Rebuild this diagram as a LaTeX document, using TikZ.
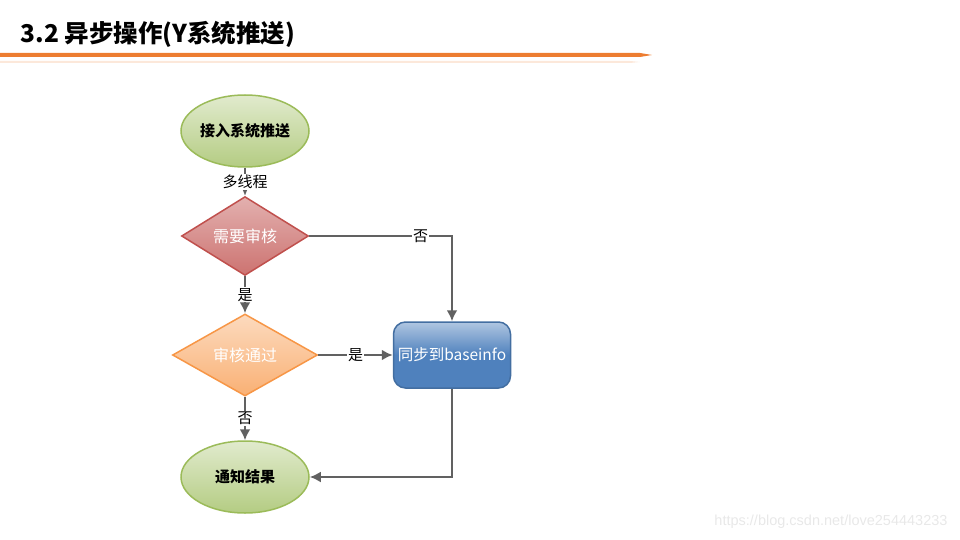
\documentclass[tikz,border=0pt]{standalone}
\usepackage{fontspec}
\setmainfont{Noto Sans CJK SC}
\newfontfamily\webfont{Liberation Sans}
\usetikzlibrary{shapes.geometric,arrows.meta}
\definecolor{titleOrange}{HTML}{ED7D31}
\definecolor{leafGreen}{HTML}{9BBB59}
\definecolor{checkRed}{HTML}{C0504D}
\definecolor{passOrange}{HTML}{F79646}
\definecolor{syncBlue}{HTML}{4F81BD}
\newcommand{\flowGray}{black!62}

\begin{document}
\begin{tikzpicture}[x=1pt,y=-1pt,
    terminal/.style={ellipse, draw=leafGreen, line width=1.5pt,
        top color=leafGreen!30, bottom color=leafGreen!75,
        minimum width=128pt, minimum height=72pt, inner sep=0pt,
        font=\fontsize{15}{18}\selectfont\bfseries},
    decision/.style={diamond, line width=1.5pt, inner sep=0pt,
        text=white, font=\fontsize{16}{19}\selectfont},
    flow/.style={draw=\flowGray, line width=2.2pt,
        -{Latex[length=11pt,width=11pt]}},
    flowlabel/.style={fill=white, inner sep=1pt,
        font=\fontsize{15}{17}\selectfont}]
\useasboundingbox (0,0) rectangle (960,540);

% title
\node[anchor=west, font=\fontsize{24.5}{28}\selectfont\bfseries](title)
    at (17,34){3.2 异步操作(Y系统推送)};
\fill[titleOrange](0,53) -- (640,53) -- (652,55) -- (640,57) -- (0,57) -- cycle;
\fill[titleOrange!18](0,61) -- (630,61) -- (640,62) -- (630,63) -- (0,63) -- cycle;

% nodes
\node[terminal](start) at (245,131){接入系统推送};
\node[decision, draw=checkRed, top color=checkRed!45, bottom color=checkRed!80,
    minimum width=127pt, minimum height=72pt](needCheck) at (245,236){需要审核};
\node[decision, draw=passOrange, top color=passOrange!35, bottom color=passOrange!75,
    minimum width=145pt, minimum height=82pt](checkPass) at (245,355){审核通过};
\node[draw=syncBlue!85!black, line width=1.5pt, rounded corners=12pt,
    top color=syncBlue!45, bottom color=syncBlue, middle color=syncBlue,
    minimum width=117pt, minimum height=66pt, inner sep=0pt, text=white,
    font=\fontsize{15.5}{18}\selectfont](sync) at (452,355){同步到baseinfo};
\node[terminal](notify) at (245,477){通知结果};

% connectors
\draw[flow](start) -- node[flowlabel]{多线程} (needCheck);
\draw[flow](needCheck) -- node[flowlabel]{是} (checkPass);
\draw[flow](needCheck.east) -| node[flowlabel, pos=0.39]{否} (sync.north);
\draw[flow](checkPass.east) -- node[flowlabel]{是} (sync.west);
\draw[flow](checkPass) -- node[flowlabel]{否} (notify);
\draw[flow](sync.south) |- (notify.east);

% watermark
\node[anchor=east, text=black!9, font=\webfont\fontsize{14.5}{16}\selectfont](mark)
    at (951,522){https://blog.csdn.net/love254443233};

\end{tikzpicture}
\end{document}
